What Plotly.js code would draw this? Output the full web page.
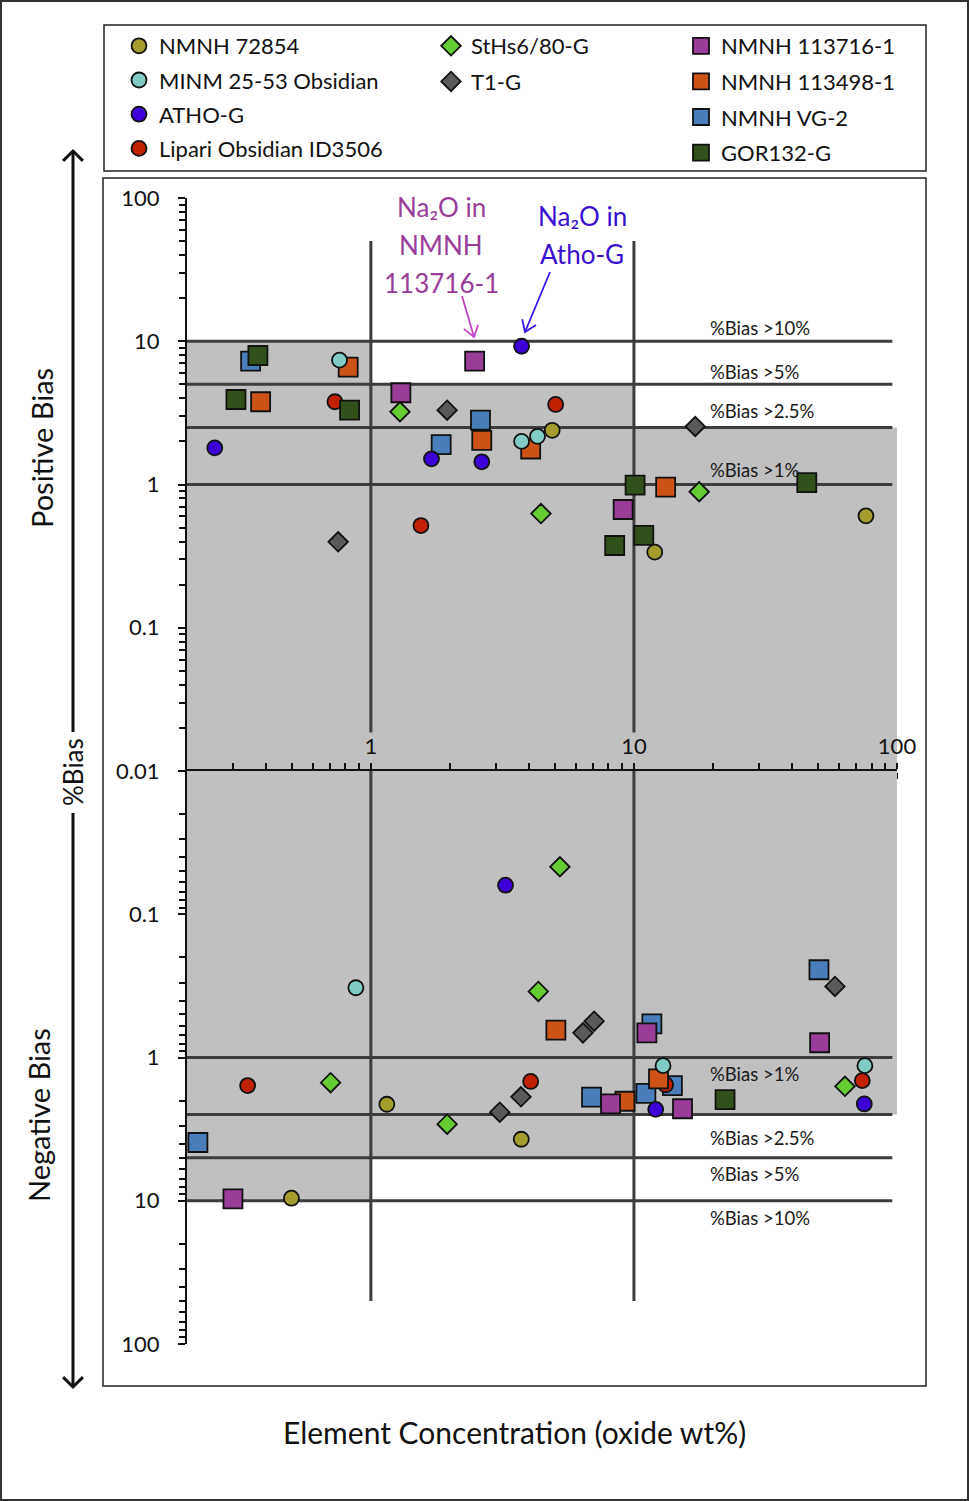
<!DOCTYPE html>
<html><head><meta charset="utf-8">
<script src="https://cdn.plot.ly/plotly-3.0.1.min.js"></script>
<style>html,body{margin:0;padding:0;background:#fff}#chart{width:969px;height:1501px}</style>
</head><body><div id="chart"></div>
<script>
// ---------- DATA: element concentration (oxide wt%) and signed %bias ----------
const nmnh72854_conc = [4.89, 12.0, 76.2, 1.15, 3.73, 0.499];
const nmnh72854_bias = [2.39, 0.337, 0.604, -2.12, -3.72, -9.60];

const minm2553_conc = [0.760, 3.74, 4.30, 0.877, 12.9, 75.5];
const minm2553_bias = [7.38, 2.00, 2.17, -0.326, -1.14, -1.14];

const athoG_conc = [0.255, 1.70, 2.64, 3.74, 3.25, 12.1, 75.1];
const athoG_bias = [1.80, 1.51, 1.44, 9.23, -0.0627, -2.30, -2.11];

const lipari_conc = [0.730, 5.04, 1.55, 0.340, 4.05, 13.2, 73.8];
const lipari_bias = [3.78, 3.62, 0.517, -1.57, -1.47, -1.55, -1.45];

const sths680_conc = [1.29, 4.43, 17.7, 5.23, 4.33, 0.703, 1.95, 63.4];
const sths680_bias = [3.22, 0.627, 0.89, -0.0466, -0.346, -1.50, -2.92, -1.59];

const t1G_conc = [1.95, 17.1, 0.751, 6.40, 7.06, 58.1, 3.09, 3.72];
const t1G_bias = [3.30, 2.54, 0.398, -0.673, -0.558, -0.319, -2.41, -1.88];

const nmnh113716_conc = [1.30, 2.48, 9.10, 11.2, 50.8, 0.299, 8.15, 15.3];
const nmnh113716_bias = [4.37, 7.26, 0.669, -0.673, -0.789, -9.69, -2.11, -2.28];

const nmnh113498_conc = [0.381, 0.820, 2.64, 4.05, 13.2, 5.05, 9.24, 12.4];
const nmnh113498_bias = [3.78, 6.59, 2.03, 1.77, 0.96, -0.645, -2.02, -1.41];

const vg2_conc = [0.349, 2.61, 1.85, 11.7, 50.5, 0.220, 6.90, 11.1, 14.0];
const vg2_bias = [7.26, 2.81, 1.90, -0.582, -0.244, -3.92, -1.89, -1.78, -1.57];

const gor132_conc = [0.372, 0.307, 0.830, 10.1, 45.4, 8.45, 10.9, 22.2];
const gor132_bias = [7.95, 3.92, 3.30, 0.99, 1.03, 0.375, 0.441, -1.97];

// thresholds and zones
const biasThresholds = [10, 5, 2.5, 1];
const thresholdLabels = ['%Bias >10%', '%Bias >5%', '%Bias >2.5%', '%Bias >1%'];
const zoneEdges = [0.2, 1, 10, 100];
const zoneLimits = [10, 5, 2.5];
const yMajorVals = [0.01, 0.1, 1, 10, 100];
const yMajorText = ['0.01', '0.1', '1', '10', '100'];
const yLowerVals = [0.1, 1, 10, 100];
const yLowerText = ['0.1', '1', '10', '100'];
const xMajorVals = [1, 10, 100];
const xMajorText = ['1', '10', '100'];

// ---------- STYLE ----------
const FONT = 'Lato, "Open Sans", sans-serif';
const W = 969, H = 1501;
const px = x => x / W;
const py = y => 1 - y / H;

const series = [
  // drawing order (legend order via legendrank)
  {name:'NMNH VG-2', conc:vg2_conc, bias:vg2_bias, color:'#4a7ebb', symbol:'square', legend:'legend3', rank:3},
  {name:'Lipari Obsidian ID3506', conc:lipari_conc, bias:lipari_bias, color:'#c22100', symbol:'circle', legend:'legend', rank:4},
  {name:'NMNH 113498-1', conc:nmnh113498_conc, bias:nmnh113498_bias, color:'#cc5218', symbol:'square', legend:'legend3', rank:2},
  {name:'NMNH 113716-1', conc:nmnh113716_conc, bias:nmnh113716_bias, color:'#993d98', symbol:'square', legend:'legend3', rank:1},
  {name:'GOR132-G', conc:gor132_conc, bias:gor132_bias, color:'#32501c', symbol:'square', legend:'legend3', rank:4},
  {name:'T1-G', conc:t1G_conc, bias:t1G_bias, color:'#5a5a5a', symbol:'diamond', legend:'legend2', rank:2},
  {name:'StHs6/80-G', conc:sths680_conc, bias:sths680_bias, color:'#66cc33', symbol:'diamond', legend:'legend2', rank:1},
  {name:'NMNH 72854', conc:nmnh72854_conc, bias:nmnh72854_bias, color:'#a39c2e', symbol:'circle', legend:'legend', rank:1},
  {name:'MINM 25-53 Obsidian', conc:minm2553_conc, bias:minm2553_bias, color:'#80cbc4', symbol:'circle', legend:'legend', rank:2},
  {name:'ATHO-G', conc:athoG_conc, bias:athoG_bias, color:'#3c00d6', symbol:'circle', legend:'legend', rank:3}
];
const symSize = {square:19, circle:15, diamond:15};

const traces = [];
series.forEach((s, i) => {
  const ux = [], uy = [], lx = [], ly = [];
  s.conc.forEach((c, k) => {
    const b = s.bias[k];
    if (b >= 0) { ux.push(c); uy.push(b); } else { lx.push(c); ly.push(-b); }
  });
  const marker = {symbol:s.symbol, size:symSize[s.symbol], color:s.color, line:{color:'#111', width:1.8}};
  traces.push({type:'scatter', mode:'markers', name:s.name, x:ux, y:uy, xaxis:'x', yaxis:'y',
    marker, legend:s.legend, legendrank:s.rank, legendgroup:'g'+i, showlegend:true, hoverinfo:'x+y+name'});
  traces.push({type:'scatter', mode:'markers', name:s.name, x:lx, y:ly, xaxis:'x2', yaxis:'y2',
    marker, legend:s.legend, legendgroup:'g'+i, showlegend:false, hoverinfo:'x+y+name'});
});

// minor tick positions
const yMinor = [];
[0.01, 0.1, 1, 10].forEach(d => { for (let m = 2; m <= 9; m++) yMinor.push(+(m * d).toPrecision(3)); });
const xMinor = [];
for (let m = 3; m <= 9; m++) xMinor.push(m / 10);
[1, 10].forEach(d => { for (let m = 2; m <= 9; m++) xMinor.push(m * d); });

const XDOM = [187 / W, 897 / W];
const UPDOM = [py(771), py(198)];
const LODOM = [py(1344), py(771)];
const XRANGE = [Math.log10(0.2), 2];
const tickFont = {family:FONT, size:22, color:'#111'};
const AX = '#111';

const xCommon = {type:'log', range:XRANGE, domain:XDOM, showgrid:false, zeroline:false,
  showline:true, linecolor:AX, linewidth:2, ticks:'outside', ticklen:6, tickwidth:2, tickcolor:AX,
  tickmode:'array', tickvals:xMajorVals, ticktext:xMajorText, tickfont:tickFont,
  minor:{tickmode:'array', tickvals:xMinor, ticks:'outside', ticklen:6, tickwidth:2, tickcolor:AX, showgrid:false},
  fixedrange:true};

const yCommon = {type:'log', showgrid:false, zeroline:false, showline:true, linecolor:AX, linewidth:2,
  ticks:'outside', ticklen:7, tickwidth:2, tickcolor:AX, tickmode:'array',
  tickfont:tickFont, ticklabelstandoff:14,
  minor:{tickmode:'array', tickvals:yMinor, ticks:'outside', ticklen:6, tickwidth:1.5, tickcolor:AX, showgrid:false},
  fixedrange:true};

const shapes = [];
// outer frames
shapes.push({type:'rect', xref:'paper', yref:'paper', x0:px(1), x1:px(968), y0:py(1500), y1:py(1), line:{color:'#333', width:2}});
shapes.push({type:'rect', xref:'paper', yref:'paper', x0:px(104), x1:px(926), y0:py(171), y1:py(25), line:{color:'#222', width:1.5}});
shapes.push({type:'rect', xref:'paper', yref:'paper', x0:px(103), x1:px(926), y0:py(1386), y1:py(178), line:{color:'#222', width:1.5}});
// gray acceptance zones
[['x','y'],['x2','y2']].forEach(([xr, yr]) => {
  zoneLimits.forEach((lim, i) => {
    shapes.push({type:'rect', xref:xr, yref:yr, layer:'below', x0:zoneEdges[i], x1:zoneEdges[i+1], y0:0.01, y1:lim,
      fillcolor:'#c0c0c0', line:{width:0}});
  });
});
// threshold lines
[['x','y'],['x2','y2']].forEach(([xr, yr]) => {
  biasThresholds.forEach(t => {
    shapes.push({type:'line', xref:xr, yref:yr, layer:'below', x0:0.2, x1:96, y0:t, y1:t, line:{color:'#3d3d3d', width:3}});
  });
});
// vertical decade lines
[1, 10].forEach(v => {
  shapes.push({type:'line', xref:'x', yref:'y', layer:'below', x0:v, x1:v, y0:0.0186, y1:50, line:{color:'#3d3d3d', width:3}});
  shapes.push({type:'line', xref:'x2', yref:'y2', layer:'below', x0:v, x1:v, y0:0.01, y1:50, line:{color:'#3d3d3d', width:3}});
});

// arrows drawn as line + open chevron (pixel geometry converted to paper units)
function arrow(tx, ty, hx, hy, arm, deg, color, width) {
  shapes.push({type:'line', xref:'paper', yref:'paper', x0:px(tx), y0:py(ty), x1:px(hx), y1:py(hy),
    line:{color, width}});
  const L = Math.hypot(tx - hx, ty - hy), ux = (tx - hx) / L, uy = (ty - hy) / L;
  const a = deg * Math.PI / 180;
  const rot = s => [hx + arm * (ux * Math.cos(s * a) - uy * Math.sin(s * a)), hy + arm * (ux * Math.sin(s * a) + uy * Math.cos(s * a))];
  const p1 = rot(1), p2 = rot(-1);
  shapes.push({type:'path', xref:'paper', yref:'paper',
    path:`M${px(p1[0])},${py(p1[1])} L${px(hx)},${py(hy)} L${px(p2[0])},${py(p2[1])}`,
    line:{color, width}});
}
arrow(462, 296, 474, 337, 13, 35, '#c442c4', 1.8);
arrow(550, 272, 525, 332, 13, 35, '#3a14ee', 1.8);
arrow(73, 732, 73, 151, 14, 45, '#111', 3);
arrow(73, 813, 73, 1387, 14, 45, '#111', 3);

const annotations = [];
const lblUpper = [328, 372, 411, 470];
const lblLower = [1218, 1174, 1138, 1074];
thresholdLabels.forEach((t, i) => {
  annotations.push({xref:'paper', yref:'paper', x:px(708), y:py(lblUpper[i]), xanchor:'left', yanchor:'middle', showarrow:false,
    text:t, font:{family:FONT, size:18.5, color:'#1a1a1a'}});
  annotations.push({xref:'paper', yref:'paper', x:px(708), y:py(lblLower[i]), xanchor:'left', yanchor:'middle', showarrow:false,
    text:t, font:{family:FONT, size:18.5, color:'#1a1a1a'}});
});
// callouts
const magenta = '#9a3c9a', violet = '#3a10d0';
[['Na\u2082O in', 207], ['NMNH', 245], ['113716-1', 283]].forEach(([t, y]) => {
  annotations.push({xref:'paper', yref:'paper', x:px(441), y:py(y), xanchor:'center', yanchor:'middle', showarrow:false,
    text:t, font:{family:FONT, size:26, color:magenta}});
});
[['Na\u2082O in', 216], ['Atho-G', 254]].forEach(([t, y]) => {
  annotations.push({xref:'paper', yref:'paper', x:px(582), y:py(y), xanchor:'center', yanchor:'middle', showarrow:false,
    text:t, font:{family:FONT, size:26, color:violet}});
});
annotations.push({xref:'paper', yref:'paper', x:px(42), y:py(448), xanchor:'center', yanchor:'middle', text:'Positive Bias',
  textangle:-90, showarrow:false, font:{family:FONT, size:29, color:'#111'}});
annotations.push({xref:'paper', yref:'paper', x:px(73), y:py(772), xanchor:'center', yanchor:'middle', text:'%Bias',
  textangle:-90, showarrow:false, font:{family:FONT, size:26, color:'#111'}});
annotations.push({xref:'paper', yref:'paper', x:px(38), y:py(1115), xanchor:'center', yanchor:'middle', text:'Negative Bias',
  textangle:-90, showarrow:false, font:{family:FONT, size:29, color:'#111'}});
annotations.push({xref:'paper', yref:'paper', x:px(514), y:py(1432), xanchor:'center', yanchor:'middle',
  text:'Element Concentration (oxide wt%)', showarrow:false, font:{family:FONT, size:30, color:'#111'}});

const legendCommon = {xanchor:'left', yanchor:'top', bgcolor:'rgba(0,0,0,0)', borderwidth:0,
  font:{family:FONT, size:22, color:'#111'}, traceorder:'grouped', tracegroupgap:4, itemwidth:30, orientation:'v'};

const layout = {
  width:W, height:H, margin:{l:0, r:0, t:0, b:0}, paper_bgcolor:'#fff', plot_bgcolor:'rgba(0,0,0,0)',
  font:{family:FONT, color:'#111'},
  xaxis: Object.assign({}, xCommon, {anchor:'y', side:'bottom', showticklabels:false}),
  xaxis2: Object.assign({}, xCommon, {anchor:'y2', side:'top', matches:'x', showticklabels:true, ticklabelstandoff:0}),
  yaxis: Object.assign({}, yCommon, {domain:UPDOM, anchor:'x', range:[-2, 2], tickvals:yMajorVals, ticktext:yMajorText}),
  yaxis2: Object.assign({}, yCommon, {domain:LODOM, anchor:'x2', range:[2, -2], tickvals:yLowerVals, ticktext:yLowerText}),
  yaxis3: {type:'log', overlaying:'y', anchor:'x', range:[-2, 2], domain:UPDOM, showgrid:false, zeroline:false, showline:false,
    ticks:'inside', ticklen:9, tickwidth:2, tickcolor:AX, tickmode:'array', tickvals:yMajorVals, showticklabels:false, fixedrange:true},
  yaxis4: {type:'log', overlaying:'y2', anchor:'x2', range:[2, -2], domain:LODOM, showgrid:false, zeroline:false, showline:false,
    ticks:'inside', ticklen:9, tickwidth:2, tickcolor:AX, tickmode:'array', tickvals:yMajorVals, showticklabels:false, fixedrange:true},
  legend: Object.assign({}, legendCommon, {x:px(119), y:py(25), tracegroupgap:2.6}),
  legend2: Object.assign({}, legendCommon, {x:px(431), y:py(25)}),
  legend3: Object.assign({}, legendCommon, {x:px(681), y:py(25)}),
  shapes, annotations, hovermode:'closest', showlegend:true
};

Plotly.newPlot('chart', traces, layout, {displayModeBar:false});
</script></body></html>
